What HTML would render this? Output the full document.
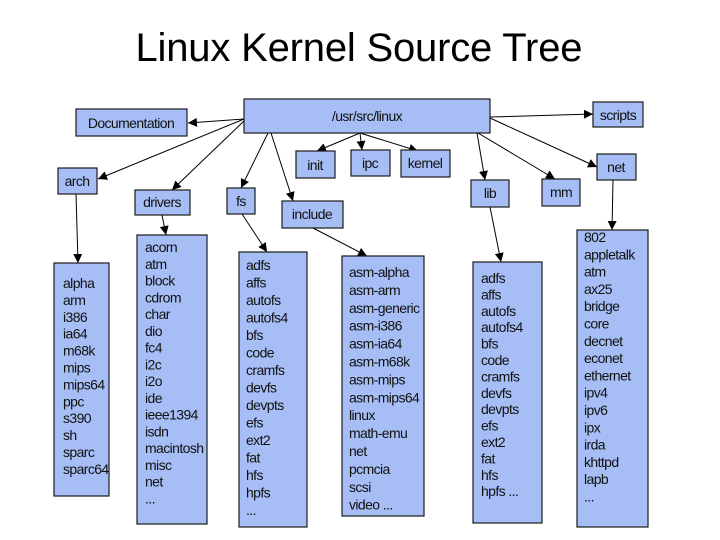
<!DOCTYPE html>
<html><head><meta charset="utf-8"><style>
html,body{margin:0;padding:0;background:#fff;}
svg{display:block;font-family:"Liberation Sans",Arial,sans-serif;}
.b{fill:#a6bef5;stroke:#1a1a1a;stroke-width:1.2;}
.s{fill:#555;}
.l{stroke:#000;stroke-width:1;fill:none;}
.t{font-size:14px;fill:#111;letter-spacing:-0.6px;}
</style></head><body>
<svg width="720" height="540" viewBox="0 0 720 540" xmlns="http://www.w3.org/2000/svg">
<defs><marker id="a" viewBox="0 0 10 10" refX="10" refY="5" markerWidth="9" markerHeight="9" markerUnits="userSpaceOnUse" orient="auto"><path d="M0,0L10,5L0,10z" fill="#000"/></marker></defs>
<text x="359" y="61" text-anchor="middle" font-size="40" fill="#000" textLength="447">Linux Kernel Source Tree</text>

<g marker-end="url(#a)" class="l">
<line x1="244" y1="119" x2="188" y2="123"/>
<line x1="244" y1="119" x2="98" y2="179"/>
<line x1="244" y1="121" x2="172" y2="190"/>
<line x1="268" y1="133" x2="241" y2="188"/>
<line x1="271" y1="133" x2="293" y2="201"/>
<line x1="360" y1="133" x2="317" y2="151"/>
<line x1="360" y1="133" x2="362" y2="150"/>
<line x1="360" y1="133" x2="418" y2="151"/>
<line x1="490" y1="117" x2="593" y2="114"/>
<line x1="490" y1="118" x2="597" y2="167"/>
<line x1="477" y1="133" x2="485" y2="180"/>
<line x1="478" y1="133" x2="555" y2="179"/>
<line x1="613" y1="180" x2="612" y2="230"/>
<line x1="490" y1="207" x2="501" y2="262"/>
<line x1="76" y1="194" x2="78" y2="263"/>
<line x1="162" y1="215" x2="166" y2="235"/>
<line x1="242" y1="214" x2="267" y2="252"/>
<line x1="313" y1="228" x2="367" y2="256"/>
</g>

<g>
<rect class="b" x="244" y="99" width="246" height="34"/>
<rect class="b" x="76" y="109" width="111" height="27"/>
<rect class="b" x="593" y="102" width="50" height="25"/>
<rect class="b" x="296" y="151" width="39" height="27"/>
<rect class="b" x="351" y="150" width="39" height="26"/>
<rect class="b" x="401" y="150" width="49" height="27"/>
<rect class="b" x="597" y="154" width="39" height="26"/>
<rect class="b" x="58" y="168" width="39" height="26"/>
<rect class="b" x="135" y="190" width="55" height="25"/>
<rect class="b" x="227" y="188" width="28" height="26"/>
<rect class="b" x="282" y="201" width="61" height="27"/>
<rect class="b" x="471" y="180" width="38" height="27"/>
<rect class="b" x="542" y="179" width="38" height="27"/>
<rect class="b" x="54" y="263" width="55" height="233"/>
<rect class="b" x="137" y="235" width="70" height="289"/>
<rect class="b" x="239" y="252" width="68" height="275"/>
<rect class="b" x="342" y="256" width="82" height="260"/>
<rect class="b" x="473" y="262" width="69" height="261"/>
<rect class="b" x="577" y="230" width="71" height="297"/>
</g>

<g class="t" text-anchor="middle">
<text x="367" y="121">/usr/src/linux</text>
<text x="131" y="128">Documentation</text>
<text x="618" y="120">scripts</text>
<text x="315" y="170">init</text>
<text x="370" y="168">ipc</text>
<text x="425" y="168">kernel</text>
<text x="616" y="172">net</text>
<text x="77" y="186">arch</text>
<text x="162" y="207">drivers</text>
<text x="241" y="206">fs</text>
<text x="312" y="219">include</text>
<text x="490" y="198">lib</text>
<text x="561" y="197">mm</text>
</g>

<g class="t">
<text x="63" y="288"><tspan x="63">alpha</tspan><tspan x="63" dy="16.9">arm</tspan><tspan x="63" dy="16.9">i386</tspan><tspan x="63" dy="16.9">ia64</tspan><tspan x="63" dy="16.9">m68k</tspan><tspan x="63" dy="16.9">mips</tspan><tspan x="63" dy="16.9">mips64</tspan><tspan x="63" dy="16.9">ppc</tspan><tspan x="63" dy="16.9">s390</tspan><tspan x="63" dy="16.9">sh</tspan><tspan x="63" dy="16.9">sparc</tspan><tspan x="63" dy="16.9">sparc64</tspan></text>
<text x="145" y="252"><tspan x="145">acorn</tspan><tspan x="145" dy="16.75">atm</tspan><tspan x="145" dy="16.75">block</tspan><tspan x="145" dy="16.75">cdrom</tspan><tspan x="145" dy="16.75">char</tspan><tspan x="145" dy="16.75">dio</tspan><tspan x="145" dy="16.75">fc4</tspan><tspan x="145" dy="16.75">i2c</tspan><tspan x="145" dy="16.75">i2o</tspan><tspan x="145" dy="16.75">ide</tspan><tspan x="145" dy="16.75">ieee1394</tspan><tspan x="145" dy="16.75">isdn</tspan><tspan x="145" dy="16.75">macintosh</tspan><tspan x="145" dy="16.75">misc</tspan><tspan x="145" dy="16.75">net</tspan><tspan x="145" dy="16.75">...</tspan></text>
<text x="246" y="270"><tspan x="246">adfs</tspan><tspan x="246" dy="17.5">affs</tspan><tspan x="246" dy="17.5">autofs</tspan><tspan x="246" dy="17.5">autofs4</tspan><tspan x="246" dy="17.5">bfs</tspan><tspan x="246" dy="17.5">code</tspan><tspan x="246" dy="17.5">cramfs</tspan><tspan x="246" dy="17.5">devfs</tspan><tspan x="246" dy="17.5">devpts</tspan><tspan x="246" dy="17.5">efs</tspan><tspan x="246" dy="17.5">ext2</tspan><tspan x="246" dy="17.5">fat</tspan><tspan x="246" dy="17.5">hfs</tspan><tspan x="246" dy="17.5">hpfs</tspan><tspan x="246" dy="17.5">...</tspan></text>
<text x="349" y="277"><tspan x="349">asm-alpha</tspan><tspan x="349" dy="17.9">asm-arm</tspan><tspan x="349" dy="17.9">asm-generic</tspan><tspan x="349" dy="17.9">asm-i386</tspan><tspan x="349" dy="17.9">asm-ia64</tspan><tspan x="349" dy="17.9">asm-m68k</tspan><tspan x="349" dy="17.9">asm-mips</tspan><tspan x="349" dy="17.9">asm-mips64</tspan><tspan x="349" dy="17.9">linux</tspan><tspan x="349" dy="17.9">math-emu</tspan><tspan x="349" dy="17.9">net</tspan><tspan x="349" dy="17.9">pcmcia</tspan><tspan x="349" dy="17.9">scsi</tspan><tspan x="349" dy="17.9">video ...</tspan></text>
<text x="481" y="283"><tspan x="481">adfs</tspan><tspan x="481" dy="16.4">affs</tspan><tspan x="481" dy="16.4">autofs</tspan><tspan x="481" dy="16.4">autofs4</tspan><tspan x="481" dy="16.4">bfs</tspan><tspan x="481" dy="16.4">code</tspan><tspan x="481" dy="16.4">cramfs</tspan><tspan x="481" dy="16.4">devfs</tspan><tspan x="481" dy="16.4">devpts</tspan><tspan x="481" dy="16.4">efs</tspan><tspan x="481" dy="16.4">ext2</tspan><tspan x="481" dy="16.4">fat</tspan><tspan x="481" dy="16.4">hfs</tspan><tspan x="481" dy="16.4">hpfs ...</tspan></text>
<text x="584" y="242"><tspan x="584">802</tspan><tspan x="584" dy="17.3">appletalk</tspan><tspan x="584" dy="17.3">atm</tspan><tspan x="584" dy="17.3">ax25</tspan><tspan x="584" dy="17.3">bridge</tspan><tspan x="584" dy="17.3">core</tspan><tspan x="584" dy="17.3">decnet</tspan><tspan x="584" dy="17.3">econet</tspan><tspan x="584" dy="17.3">ethernet</tspan><tspan x="584" dy="17.3">ipv4</tspan><tspan x="584" dy="17.3">ipv6</tspan><tspan x="584" dy="17.3">ipx</tspan><tspan x="584" dy="17.3">irda</tspan><tspan x="584" dy="17.3">khttpd</tspan><tspan x="584" dy="17.3">lapb</tspan><tspan x="584" dy="17.3">...</tspan></text>
</g>
</svg>
</body></html>
